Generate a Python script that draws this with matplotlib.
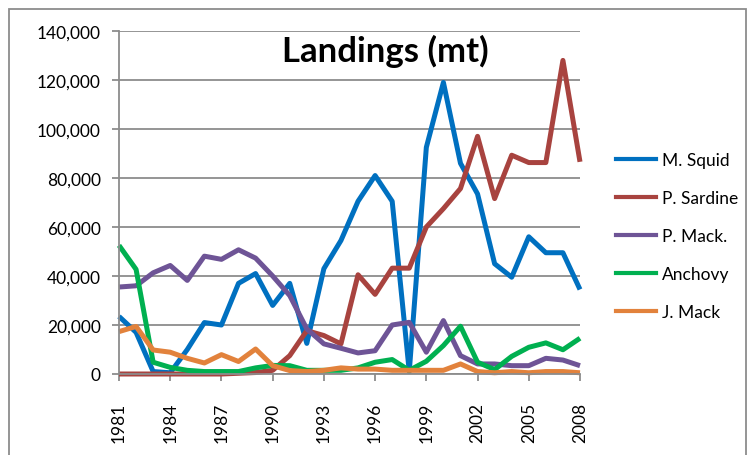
"""
Landings (mt) by species, 1981-2008
"""
import matplotlib
matplotlib.use("Agg")
import matplotlib.pyplot as plt
from matplotlib.ticker import FuncFormatter
from matplotlib.lines import Line2D

years = list(range(1981, 2009))

squid = [23500, 17000, 1000, 500, 10000, 21000, 20000, 37000, 41000, 28000,
         37000, 12500, 43000, 54500, 70500, 81000, 70500, 1000, 92500, 119000,
         86000, 73500, 45000, 39500, 56000, 49500, 49500, 34500]
sardine = [0, 0, 0, 0, 0, 0, 0, 300, 600, 1500,
           7500, 17700, 15700, 12300, 40500, 32500, 43200, 43200, 60000, 67500,
           75700, 97000, 71600, 89300, 86300, 86300, 128000, 86600]
p_mack = [35500, 36000, 41300, 44300, 38200, 48100, 46800, 50700, 47300, 40000,
          32000, 18400, 12300, 10500, 8600, 9500, 20000, 21100, 8900, 21800,
          7500, 4100, 4100, 3400, 3400, 6400, 5700, 3400]
anchovy = [52500, 42700, 4800, 2700, 1500, 1000, 1000, 1000, 2500, 3500,
           3400, 1500, 1500, 1500, 2500, 4800, 5900, 1500, 5200, 11600,
           19500, 4800, 1800, 7200, 10900, 12700, 9900, 14600]
j_mack = [17300, 19400, 9800, 8900, 6400, 4500, 7900, 5100, 10200, 3400,
          1400, 1000, 1500, 2500, 2000, 2000, 1500, 1500, 1500, 1500,
          4100, 1000, 500, 1000, 500, 1000, 1000, 500]

names = ["M. Squid", "P. Sardine", "P. Mack.", "Anchovy", "J. Mack"]
colors = ["#0070C0", "#A8433F", "#6E5496", "#00B050", "#E2823C"]

plt.rcParams['font.family'] = ['Lato', 'DejaVu Sans']

fig = plt.figure(figsize=(7.52, 4.56), dpi=100)
W, H = 752, 456
ax = fig.add_axes([119 / W, 81 / H, 461 / W, 343 / H])

for name, vals, c in zip(names, [squid, sardine, p_mack, anchovy, j_mack], colors):
    ax.plot(years, vals, color=c, lw=3.6, label=name, clip_on=False,
            solid_joinstyle='round', solid_capstyle='butt')

ax.set_xlim(1981, 2008)
ax.set_ylim(0, 140000)
ax.set_yticks(range(0, 140001, 20000))
ax.set_xticks(years[::3])
ax.yaxis.set_major_formatter(FuncFormatter(lambda v, p: f"{int(v):,}"))
ax.grid(axis='y', color='#8c8c8c', lw=1.3)
ax.set_axisbelow(True)
for s in ['top', 'right']:
    ax.spines[s].set_visible(False)
for s in ['left', 'bottom']:
    ax.spines[s].set_color('#8c8c8c')
    ax.spines[s].set_linewidth(1.3)
ax.tick_params(axis='y', length=5, width=1.3, color='#8c8c8c', pad=8, labelsize=12.5)
ax.tick_params(axis='x', length=5, width=1.3, color='#8c8c8c', pad=15, labelsize=12.5,
               labelrotation=90)

fig.text(385 / W, 1 - 62 / H, "Landings (mt)", ha='center', va='baseline',
         fontsize=25, fontweight='bold')

handles = [Line2D([], [], color=c, lw=3) for c in colors]
fig.legend(handles, names, loc='center left', bbox_to_anchor=(600 / W, 1 - 237 / H),
           frameon=False, fontsize=12.5, handlelength=2.3, handletextpad=0.35,
           labelspacing=1.27)

# chart area border
fig.add_artist(plt.Rectangle((9 / W, -0.05), 737 / W, 1.05 - 10 / H,
                             transform=fig.transFigure, fill=False,
                             edgecolor='#8c8c8c', lw=1.3))

fig.savefig("out.png", dpi=100)
